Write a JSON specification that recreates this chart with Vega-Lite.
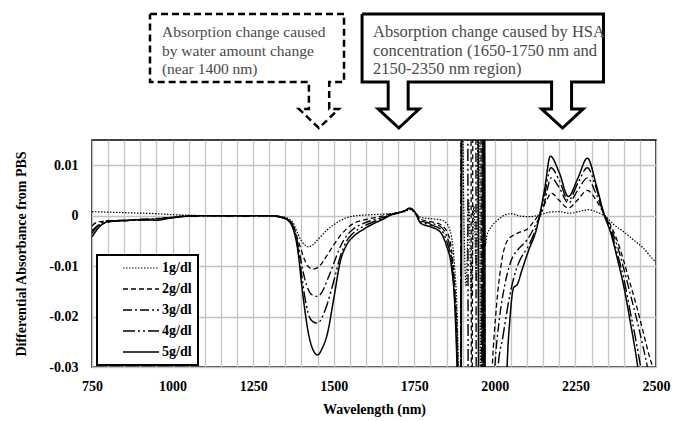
{
  "$schema": "https://vega.github.io/schema/vega-lite/v6.json",
  "width": 564,
  "height": 227,
  "autosize": {"type": "none"},
  "padding": {"left": 92, "top": 140, "right": 17, "bottom": 54},
  "background": "white",
  "config": {
    "font": "Liberation Serif, Tinos, Times New Roman, serif",
    "view": {"stroke": "black", "strokeWidth": 1.5},
    "legend": {
      "orient": "none",
      "legendX": 5,
      "legendY": 115,
      "strokeColor": "black",
      "strokeWidth": 2,
      "fillColor": "white",
      "padding": 6,
      "symbolOffset": 31,
      "symbolType": "M-3,0H3",
      "symbolSize": 144,
      "symbolStrokeColor": "black",
      "labelFont": "Liberation Serif, Tinos, Times New Roman, serif",
      "labelFontSize": 14,
      "labelFontWeight": "bold",
      "labelColor": "black",
      "labelOffset": 14,
      "rowPadding": 7
    }
  },
  "datasets": {
    "series": [
      {"s":"1g/dl","w":750,"v":0.0008},{"s":"1g/dl","w":800,"v":0.0007},{"s":"1g/dl","w":850,"v":0.0006},{"s":"1g/dl","w":900,"v":0.0005},{"s":"1g/dl","w":950,"v":0.0004},{"s":"1g/dl","w":1000,"v":0.0002},{"s":"1g/dl","w":1050,"v":0.0001},{"s":"1g/dl","w":1100,"v":0},{"s":"1g/dl","w":1200,"v":0},{"s":"1g/dl","w":1300,"v":0},{"s":"1g/dl","w":1340,"v":-0.0002},{"s":"1g/dl","w":1360,"v":-0.0006},{"s":"1g/dl","w":1375,"v":-0.0015},{"s":"1g/dl","w":1390,"v":-0.0038},{"s":"1g/dl","w":1400,"v":-0.005},{"s":"1g/dl","w":1410,"v":-0.0058},{"s":"1g/dl","w":1422,"v":-0.0062},{"s":"1g/dl","w":1435,"v":-0.0058},{"s":"1g/dl","w":1450,"v":-0.0048},{"s":"1g/dl","w":1465,"v":-0.0038},{"s":"1g/dl","w":1480,"v":-0.0028},{"s":"1g/dl","w":1500,"v":-0.0018},{"s":"1g/dl","w":1520,"v":-0.001},{"s":"1g/dl","w":1540,"v":-0.0004},{"s":"1g/dl","w":1560,"v":-0.0001},{"s":"1g/dl","w":1590,"v":0.0001},{"s":"1g/dl","w":1620,"v":0.0002},{"s":"1g/dl","w":1650,"v":0.0003},{"s":"1g/dl","w":1680,"v":0.0004},{"s":"1g/dl","w":1700,"v":0.0006},{"s":"1g/dl","w":1720,"v":0.0008},{"s":"1g/dl","w":1737,"v":0.0012},{"s":"1g/dl","w":1752,"v":0.0006},{"s":"1g/dl","w":1770,"v":-0.0003},{"s":"1g/dl","w":1800,"v":-0.0006},{"s":"1g/dl","w":1830,"v":-0.0008},{"s":"1g/dl","w":1850,"v":-0.0015},{"s":"1g/dl","w":1865,"v":-0.004},{"s":"1g/dl","w":1875,"v":-0.01},{"s":"1g/dl","w":1885,"v":-0.024},{"s":"1g/dl","w":1892,"v":-0.06},{"s":"1g/dl","w":1897,"v":0.06},{"s":"1g/dl","w":1903,"v":0.004},{"s":"1g/dl","w":1911,"v":-0.014},{"s":"1g/dl","w":1919,"v":0.003},{"s":"1g/dl","w":1927,"v":-0.016},{"s":"1g/dl","w":1935,"v":0.002},{"s":"1g/dl","w":1943,"v":-0.013},{"s":"1g/dl","w":1951,"v":0.06},{"s":"1g/dl","w":1957,"v":-0.06},{"s":"1g/dl","w":1964,"v":0.06},{"s":"1g/dl","w":1970,"v":-0.006},{"s":"1g/dl","w":1975,"v":-0.004},{"s":"1g/dl","w":1990,"v":-0.0021},{"s":"1g/dl","w":2010,"v":-0.0008},{"s":"1g/dl","w":2030,"v":0.0001},{"s":"1g/dl","w":2050,"v":0.0004},{"s":"1g/dl","w":2080,"v":-0.0001},{"s":"1g/dl","w":2110,"v":-0.0002},{"s":"1g/dl","w":2140,"v":0.0002},{"s":"1g/dl","w":2170,"v":0.0007},{"s":"1g/dl","w":2200,"v":0.0008},{"s":"1g/dl","w":2230,"v":0.0005},{"s":"1g/dl","w":2260,"v":0.0008},{"s":"1g/dl","w":2290,"v":0.0012},{"s":"1g/dl","w":2320,"v":0.0006},{"s":"1g/dl","w":2340,"v":0},{"s":"1g/dl","w":2370,"v":-0.0018},{"s":"1g/dl","w":2400,"v":-0.0032},{"s":"1g/dl","w":2430,"v":-0.0048},{"s":"1g/dl","w":2460,"v":-0.0064},{"s":"1g/dl","w":2490,"v":-0.0086},{"s":"1g/dl","w":2500,"v":-0.0092},

      {"s":"2g/dl","w":750,"v":-0.002},{"s":"2g/dl","w":770,"v":-0.0012},{"s":"2g/dl","w":800,"v":-0.0011},{"s":"2g/dl","w":850,"v":-0.0009},{"s":"2g/dl","w":900,"v":-0.0008},{"s":"2g/dl","w":950,"v":-0.0006},{"s":"2g/dl","w":1000,"v":-0.0003},{"s":"2g/dl","w":1050,"v":0},{"s":"2g/dl","w":1100,"v":0},{"s":"2g/dl","w":1200,"v":0},{"s":"2g/dl","w":1300,"v":0},{"s":"2g/dl","w":1340,"v":-0.0003},{"s":"2g/dl","w":1360,"v":-0.0008},{"s":"2g/dl","w":1375,"v":-0.002},{"s":"2g/dl","w":1390,"v":-0.005},{"s":"2g/dl","w":1400,"v":-0.007},{"s":"2g/dl","w":1410,"v":-0.0088},{"s":"2g/dl","w":1420,"v":-0.01},{"s":"2g/dl","w":1435,"v":-0.0106},{"s":"2g/dl","w":1450,"v":-0.0103},{"s":"2g/dl","w":1465,"v":-0.0093},{"s":"2g/dl","w":1480,"v":-0.0078},{"s":"2g/dl","w":1500,"v":-0.0058},{"s":"2g/dl","w":1520,"v":-0.004},{"s":"2g/dl","w":1540,"v":-0.0026},{"s":"2g/dl","w":1560,"v":-0.0016},{"s":"2g/dl","w":1590,"v":-0.0009},{"s":"2g/dl","w":1620,"v":-0.0005},{"s":"2g/dl","w":1650,"v":-0.0001},{"s":"2g/dl","w":1680,"v":0.0004},{"s":"2g/dl","w":1700,"v":0.0006},{"s":"2g/dl","w":1720,"v":0.0009},{"s":"2g/dl","w":1737,"v":0.0013},{"s":"2g/dl","w":1752,"v":0.0007},{"s":"2g/dl","w":1770,"v":-0.0007},{"s":"2g/dl","w":1800,"v":-0.0012},{"s":"2g/dl","w":1830,"v":-0.0017},{"s":"2g/dl","w":1850,"v":-0.003},{"s":"2g/dl","w":1865,"v":-0.0065},{"s":"2g/dl","w":1875,"v":-0.0135},{"s":"2g/dl","w":1885,"v":-0.0285},{"s":"2g/dl","w":1892,"v":-0.06},{"s":"2g/dl","w":1897,"v":0.06},{"s":"2g/dl","w":1925,"v":0.06},{"s":"2g/dl","w":1928,"v":-0.06},{"s":"2g/dl","w":1934,"v":0.06},{"s":"2g/dl","w":1955,"v":0.06},{"s":"2g/dl","w":1960,"v":-0.06},{"s":"2g/dl","w":1966,"v":0.06},{"s":"2g/dl","w":1970,"v":-0.06},{"s":"2g/dl","w":1980,"v":-0.05},{"s":"2g/dl","w":1992,"v":-0.03},{"s":"2g/dl","w":2005,"v":-0.018},{"s":"2g/dl","w":2020,"v":-0.0095},{"s":"2g/dl","w":2040,"v":-0.0048},{"s":"2g/dl","w":2060,"v":-0.0038},{"s":"2g/dl","w":2080,"v":-0.0032},{"s":"2g/dl","w":2100,"v":-0.0027},{"s":"2g/dl","w":2120,"v":-0.0012},{"s":"2g/dl","w":2140,"v":0.0006},{"s":"2g/dl","w":2160,"v":0.003},{"s":"2g/dl","w":2175,"v":0.0045},{"s":"2g/dl","w":2200,"v":0.003},{"s":"2g/dl","w":2228,"v":0.0015},{"s":"2g/dl","w":2255,"v":0.003},{"s":"2g/dl","w":2287,"v":0.005},{"s":"2g/dl","w":2315,"v":0.003},{"s":"2g/dl","w":2340,"v":0.0002},{"s":"2g/dl","w":2360,"v":-0.002},{"s":"2g/dl","w":2380,"v":-0.005},{"s":"2g/dl","w":2400,"v":-0.009},{"s":"2g/dl","w":2420,"v":-0.0135},{"s":"2g/dl","w":2440,"v":-0.018},{"s":"2g/dl","w":2460,"v":-0.023},{"s":"2g/dl","w":2480,"v":-0.028},{"s":"2g/dl","w":2495,"v":-0.031},{"s":"2g/dl","w":2500,"v":-0.032},

      {"s":"3g/dl","w":750,"v":-0.003},{"s":"3g/dl","w":770,"v":-0.0018},{"s":"3g/dl","w":800,"v":-0.001},{"s":"3g/dl","w":850,"v":-0.001},{"s":"3g/dl","w":900,"v":-0.0007},{"s":"3g/dl","w":950,"v":-0.0006},{"s":"3g/dl","w":1000,"v":-0.0003},{"s":"3g/dl","w":1050,"v":-0.0001},{"s":"3g/dl","w":1100,"v":0},{"s":"3g/dl","w":1200,"v":-0.0001},{"s":"3g/dl","w":1300,"v":0},{"s":"3g/dl","w":1340,"v":-0.0003},{"s":"3g/dl","w":1360,"v":-0.0009},{"s":"3g/dl","w":1375,"v":-0.0022},{"s":"3g/dl","w":1390,"v":-0.006},{"s":"3g/dl","w":1400,"v":-0.0095},{"s":"3g/dl","w":1410,"v":-0.0125},{"s":"3g/dl","w":1420,"v":-0.0145},{"s":"3g/dl","w":1435,"v":-0.0158},{"s":"3g/dl","w":1450,"v":-0.016},{"s":"3g/dl","w":1465,"v":-0.015},{"s":"3g/dl","w":1480,"v":-0.0128},{"s":"3g/dl","w":1500,"v":-0.0095},{"s":"3g/dl","w":1520,"v":-0.0062},{"s":"3g/dl","w":1540,"v":-0.004},{"s":"3g/dl","w":1560,"v":-0.0027},{"s":"3g/dl","w":1590,"v":-0.0016},{"s":"3g/dl","w":1620,"v":-0.0009},{"s":"3g/dl","w":1650,"v":-0.0004},{"s":"3g/dl","w":1680,"v":0.0003},{"s":"3g/dl","w":1700,"v":0.0006},{"s":"3g/dl","w":1720,"v":0.0009},{"s":"3g/dl","w":1737,"v":0.0014},{"s":"3g/dl","w":1752,"v":0.0007},{"s":"3g/dl","w":1770,"v":-0.001},{"s":"3g/dl","w":1800,"v":-0.0015},{"s":"3g/dl","w":1830,"v":-0.0021},{"s":"3g/dl","w":1850,"v":-0.004},{"s":"3g/dl","w":1865,"v":-0.0078},{"s":"3g/dl","w":1875,"v":-0.0148},{"s":"3g/dl","w":1885,"v":-0.031},{"s":"3g/dl","w":1892,"v":-0.06},{"s":"3g/dl","w":1898,"v":0.06},{"s":"3g/dl","w":1940,"v":0.06},{"s":"3g/dl","w":1943,"v":-0.06},{"s":"3g/dl","w":1958,"v":-0.06},{"s":"3g/dl","w":1963,"v":0.06},{"s":"3g/dl","w":1968,"v":-0.06},{"s":"3g/dl","w":1985,"v":-0.05},{"s":"3g/dl","w":2000,"v":-0.03},{"s":"3g/dl","w":2015,"v":-0.02},{"s":"3g/dl","w":2030,"v":-0.014},{"s":"3g/dl","w":2050,"v":-0.009},{"s":"3g/dl","w":2075,"v":-0.0065},{"s":"3g/dl","w":2100,"v":-0.0048},{"s":"3g/dl","w":2125,"v":-0.002},{"s":"3g/dl","w":2150,"v":0.0015},{"s":"3g/dl","w":2175,"v":0.0075},{"s":"3g/dl","w":2200,"v":0.0055},{"s":"3g/dl","w":2228,"v":0.0025},{"s":"3g/dl","w":2257,"v":0.005},{"s":"3g/dl","w":2287,"v":0.0075},{"s":"3g/dl","w":2313,"v":0.0045},{"s":"3g/dl","w":2340,"v":0.0002},{"s":"3g/dl","w":2360,"v":-0.0025},{"s":"3g/dl","w":2380,"v":-0.006},{"s":"3g/dl","w":2400,"v":-0.0105},{"s":"3g/dl","w":2420,"v":-0.0155},{"s":"3g/dl","w":2440,"v":-0.0205},{"s":"3g/dl","w":2460,"v":-0.026},{"s":"3g/dl","w":2475,"v":-0.0305},{"s":"3g/dl","w":2485,"v":-0.034},

      {"s":"4g/dl","w":750,"v":-0.0035},{"s":"4g/dl","w":770,"v":-0.002},{"s":"4g/dl","w":800,"v":-0.0013},{"s":"4g/dl","w":850,"v":-0.0009},{"s":"4g/dl","w":900,"v":-0.0009},{"s":"4g/dl","w":950,"v":-0.0007},{"s":"4g/dl","w":1000,"v":-0.0004},{"s":"4g/dl","w":1050,"v":0},{"s":"4g/dl","w":1100,"v":0},{"s":"4g/dl","w":1200,"v":0},{"s":"4g/dl","w":1300,"v":0},{"s":"4g/dl","w":1340,"v":-0.0004},{"s":"4g/dl","w":1360,"v":-0.001},{"s":"4g/dl","w":1375,"v":-0.0025},{"s":"4g/dl","w":1390,"v":-0.0068},{"s":"4g/dl","w":1400,"v":-0.0115},{"s":"4g/dl","w":1410,"v":-0.016},{"s":"4g/dl","w":1420,"v":-0.0192},{"s":"4g/dl","w":1435,"v":-0.021},{"s":"4g/dl","w":1450,"v":-0.0213},{"s":"4g/dl","w":1465,"v":-0.02},{"s":"4g/dl","w":1480,"v":-0.0175},{"s":"4g/dl","w":1500,"v":-0.013},{"s":"4g/dl","w":1520,"v":-0.0082},{"s":"4g/dl","w":1540,"v":-0.005},{"s":"4g/dl","w":1560,"v":-0.0035},{"s":"4g/dl","w":1590,"v":-0.0022},{"s":"4g/dl","w":1620,"v":-0.0013},{"s":"4g/dl","w":1650,"v":-0.0006},{"s":"4g/dl","w":1680,"v":0.0002},{"s":"4g/dl","w":1700,"v":0.0006},{"s":"4g/dl","w":1720,"v":0.001},{"s":"4g/dl","w":1737,"v":0.0015},{"s":"4g/dl","w":1752,"v":0.0007},{"s":"4g/dl","w":1770,"v":-0.0012},{"s":"4g/dl","w":1800,"v":-0.0018},{"s":"4g/dl","w":1830,"v":-0.0026},{"s":"4g/dl","w":1850,"v":-0.005},{"s":"4g/dl","w":1865,"v":-0.009},{"s":"4g/dl","w":1875,"v":-0.016},{"s":"4g/dl","w":1885,"v":-0.033},{"s":"4g/dl","w":1893,"v":-0.06},{"s":"4g/dl","w":1899,"v":0.06},{"s":"4g/dl","w":1915,"v":0.06},{"s":"4g/dl","w":1918,"v":-0.06},{"s":"4g/dl","w":1961,"v":-0.06},{"s":"4g/dl","w":1965,"v":0.06},{"s":"4g/dl","w":1969,"v":-0.06},{"s":"4g/dl","w":1995,"v":-0.05},{"s":"4g/dl","w":2010,"v":-0.03},{"s":"4g/dl","w":2025,"v":-0.024},{"s":"4g/dl","w":2040,"v":-0.018},{"s":"4g/dl","w":2060,"v":-0.012},{"s":"4g/dl","w":2080,"v":-0.0085},{"s":"4g/dl","w":2100,"v":-0.0065},{"s":"4g/dl","w":2125,"v":-0.003},{"s":"4g/dl","w":2150,"v":0.0025},{"s":"4g/dl","w":2174,"v":0.0095},{"s":"4g/dl","w":2200,"v":0.007},{"s":"4g/dl","w":2228,"v":0.003},{"s":"4g/dl","w":2258,"v":0.0065},{"s":"4g/dl","w":2287,"v":0.0095},{"s":"4g/dl","w":2312,"v":0.006},{"s":"4g/dl","w":2340,"v":0},{"s":"4g/dl","w":2360,"v":-0.003},{"s":"4g/dl","w":2380,"v":-0.0075},{"s":"4g/dl","w":2400,"v":-0.0125},{"s":"4g/dl","w":2420,"v":-0.019},{"s":"4g/dl","w":2440,"v":-0.0255},{"s":"4g/dl","w":2455,"v":-0.031},{"s":"4g/dl","w":2465,"v":-0.035},

      {"s":"5g/dl","w":750,"v":-0.0042},{"s":"5g/dl","w":765,"v":-0.0028},{"s":"5g/dl","w":780,"v":-0.0018},{"s":"5g/dl","w":800,"v":-0.0012},{"s":"5g/dl","w":850,"v":-0.001},{"s":"5g/dl","w":900,"v":-0.0008},{"s":"5g/dl","w":950,"v":-0.0009},{"s":"5g/dl","w":1000,"v":-0.0004},{"s":"5g/dl","w":1050,"v":-0.0001},{"s":"5g/dl","w":1100,"v":0},{"s":"5g/dl","w":1200,"v":0},{"s":"5g/dl","w":1300,"v":0},{"s":"5g/dl","w":1340,"v":-0.0004},{"s":"5g/dl","w":1360,"v":-0.001},{"s":"5g/dl","w":1375,"v":-0.0028},{"s":"5g/dl","w":1390,"v":-0.0075},{"s":"5g/dl","w":1400,"v":-0.0134},{"s":"5g/dl","w":1410,"v":-0.0185},{"s":"5g/dl","w":1420,"v":-0.0228},{"s":"5g/dl","w":1435,"v":-0.0265},{"s":"5g/dl","w":1450,"v":-0.0276},{"s":"5g/dl","w":1465,"v":-0.0262},{"s":"5g/dl","w":1480,"v":-0.0235},{"s":"5g/dl","w":1500,"v":-0.0165},{"s":"5g/dl","w":1520,"v":-0.0092},{"s":"5g/dl","w":1540,"v":-0.0058},{"s":"5g/dl","w":1560,"v":-0.0042},{"s":"5g/dl","w":1590,"v":-0.0028},{"s":"5g/dl","w":1620,"v":-0.0017},{"s":"5g/dl","w":1650,"v":-0.0008},{"s":"5g/dl","w":1680,"v":0.0002},{"s":"5g/dl","w":1700,"v":0.0005},{"s":"5g/dl","w":1720,"v":0.001},{"s":"5g/dl","w":1737,"v":0.0015},{"s":"5g/dl","w":1752,"v":0.0006},{"s":"5g/dl","w":1770,"v":-0.0015},{"s":"5g/dl","w":1800,"v":-0.0022},{"s":"5g/dl","w":1830,"v":-0.0032},{"s":"5g/dl","w":1850,"v":-0.006},{"s":"5g/dl","w":1865,"v":-0.01},{"s":"5g/dl","w":1875,"v":-0.017},{"s":"5g/dl","w":1885,"v":-0.035},{"s":"5g/dl","w":1894,"v":-0.06},{"s":"5g/dl","w":1900,"v":0.06},{"s":"5g/dl","w":1947,"v":0.06},{"s":"5g/dl","w":1950,"v":-0.06},{"s":"5g/dl","w":1962,"v":-0.06},{"s":"5g/dl","w":1967,"v":0.06},{"s":"5g/dl","w":1971,"v":-0.06},{"s":"5g/dl","w":2030,"v":-0.05},{"s":"5g/dl","w":2038,"v":-0.03},{"s":"5g/dl","w":2047,"v":-0.0203},{"s":"5g/dl","w":2058,"v":-0.0143},{"s":"5g/dl","w":2070,"v":-0.0136},{"s":"5g/dl","w":2083,"v":-0.011},{"s":"5g/dl","w":2104,"v":-0.007},{"s":"5g/dl","w":2130,"v":-0.0025},{"s":"5g/dl","w":2155,"v":0.0055},{"s":"5g/dl","w":2172,"v":0.0118},{"s":"5g/dl","w":2200,"v":0.0085},{"s":"5g/dl","w":2228,"v":0.0038},{"s":"5g/dl","w":2258,"v":0.0075},{"s":"5g/dl","w":2287,"v":0.0114},{"s":"5g/dl","w":2315,"v":0.006},{"s":"5g/dl","w":2340,"v":0},{"s":"5g/dl","w":2360,"v":-0.0035},{"s":"5g/dl","w":2380,"v":-0.0085},{"s":"5g/dl","w":2400,"v":-0.014},{"s":"5g/dl","w":2420,"v":-0.021},{"s":"5g/dl","w":2440,"v":-0.0285},{"s":"5g/dl","w":2450,"v":-0.033}
    ],
    "calloutWater": [
      {"i":1,"w":930,"v":0.04},{"i":2,"w":1532,"v":0.04},{"i":3,"w":1532,"v":0.0265},{"i":4,"w":1486,"v":0.0265},{"i":5,"w":1486,"v":0.02115},{"i":6,"w":1516,"v":0.02115},{"i":7,"w":1454,"v":0.01738},{"i":8,"w":1392,"v":0.02115},{"i":9,"w":1423,"v":0.02115},{"i":10,"w":1423,"v":0.0265},{"i":11,"w":930,"v":0.0265},{"i":12,"w":930,"v":0.04}
    ],
    "calloutHSA": [
      {"i":1,"w":1588,"v":0.04},{"i":2,"w":2337,"v":0.04},{"i":3,"w":2337,"v":0.0265},{"i":4,"w":2238,"v":0.0265},{"i":5,"w":2238,"v":0.02115},{"i":6,"w":2274,"v":0.02115},{"i":7,"w":2210,"v":0.01738},{"i":8,"w":2145,"v":0.02115},{"i":9,"w":2176,"v":0.02115},{"i":10,"w":2176,"v":0.0265},{"i":11,"w":1731,"v":0.0265},{"i":12,"w":1731,"v":0.02115},{"i":13,"w":1765,"v":0.02115},{"i":14,"w":1702,"v":0.01738},{"i":15,"w":1638,"v":0.02115},{"i":16,"w":1669,"v":0.02115},{"i":17,"w":1669,"v":0.0265},{"i":18,"w":1588,"v":0.0265},{"i":19,"w":1588,"v":0.04}
    ],
    "notesWater": [
      {"w":967,"v":0.03647,"t":"Absorption change caused"},
      {"w":967,"v":0.0327,"t":"by water amount change"},
      {"w":967,"v":0.02902,"t":"(near 1400 nm)"}
    ],
    "notesHSA": [
      {"w":1622,"v":0.03647,"t":"Absorption change caused by HSA"},
      {"w":1622,"v":0.0327,"t":"concentration (1650-1750 nm and"},
      {"w":1622,"v":0.02902,"t":"2150-2350 nm region)"}
    ]
  },
  "encoding": {
    "x": {
      "field": "w",
      "type": "quantitative",
      "scale": {"domain": [750, 2500], "nice": false, "zero": false},
      "axis": {
        "title": "Wavelength  (nm)",
        "values": [750,800,850,900,950,1000,1050,1100,1150,1200,1250,1300,1350,1400,1450,1500,1550,1600,1650,1700,1750,1800,1850,1900,1950,2000,2050,2100,2150,2200,2250,2300,2350,2400,2450,2500],
        "format": "d",
        "labelExpr": "datum.value % 250 == 0 ? datum.label : ''",
        "labelOverlap": false,
        "labelFlush": false,
        "grid": true,
        "gridColor": "#c4c4c4",
        "gridWidth": 1.3,
        "ticks": false,
        "domain": false,
        "labelFont": "Liberation Serif, Tinos, Times New Roman, serif",
        "labelFontSize": 14,
        "labelFontWeight": "bold",
        "labelColor": "black",
        "labelPadding": 12,
        "titleFont": "Liberation Serif, Tinos, Times New Roman, serif",
        "titleFontSize": 14,
        "titleFontWeight": "bold",
        "titleColor": "black",
        "titlePadding": 9
      }
    },
    "y": {
      "field": "v",
      "type": "quantitative",
      "scale": {"domain": [-0.03, 0.015], "nice": false, "zero": false},
      "axis": {
        "title": "Differential Absorbance from PBS",
        "values": [-0.03, -0.02, -0.01, 0, 0.01],
        "labelExpr": "datum.value == 0 ? '0' : (datum.value < 0 ? '-' : '') + format(abs(datum.value), '.2f')",
        "grid": true,
        "gridColor": "#c4c4c4",
        "gridWidth": 1.3,
        "ticks": false,
        "domain": false,
        "labelFont": "Liberation Serif, Tinos, Times New Roman, serif",
        "labelFontSize": 14,
        "labelFontWeight": "bold",
        "labelColor": "black",
        "labelPadding": 14,
        "titleFont": "Liberation Serif, Tinos, Times New Roman, serif",
        "titleFontSize": 14,
        "titleFontWeight": "bold",
        "titleColor": "black",
        "titlePadding": 20
      }
    }
  },
  "layer": [
    {
      "data": {"name": "series"},
      "mark": {"type": "line", "clip": true, "color": "black", "interpolate": "monotone"},
      "encoding": {
        "strokeDash": {
          "field": "s",
          "type": "ordinal",
          "title": null,
          "scale": {
            "domain": ["1g/dl", "2g/dl", "3g/dl", "4g/dl", "5g/dl"],
            "range": [[1.5, 1.5], [5, 3], [9, 3, 2, 3], [12, 3, 2, 3, 2, 3], [1, 0]]
          },
          "legend": {"labelExpr": "datum.label + '\u00a0\u00a0\u00a0\u00a0\u00a0'"}
        },
        "strokeWidth": {
          "field": "s",
          "type": "ordinal",
          "title": null,
          "scale": {
            "domain": ["1g/dl", "2g/dl", "3g/dl", "4g/dl", "5g/dl"],
            "range": [1.2, 1.5, 1.5, 1.6, 1.8]
          },
          "legend": {"labelExpr": "datum.label + '\u00a0\u00a0\u00a0\u00a0\u00a0'"}
        }
      }
    },
    {
      "data": {"name": "calloutWater"},
      "mark": {"type": "line", "color": "black", "strokeWidth": 2.5, "strokeDash": [7, 4], "strokeJoin": "miter"},
      "encoding": {"order": {"field": "i", "type": "quantitative"}}
    },
    {
      "data": {"name": "calloutHSA"},
      "mark": {"type": "line", "color": "black", "strokeWidth": 3, "strokeJoin": "miter"},
      "encoding": {"order": {"field": "i", "type": "quantitative"}}
    },
    {
      "data": {"name": "notesWater"},
      "mark": {"type": "text", "align": "left", "baseline": "middle", "font": "Liberation Serif, Tinos, Times New Roman, serif", "fontSize": 15.5, "color": "#4a4a4a"},
      "encoding": {"text": {"field": "t", "type": "nominal"}}
    },
    {
      "data": {"name": "notesHSA"},
      "mark": {"type": "text", "align": "left", "baseline": "middle", "font": "Liberation Serif, Tinos, Times New Roman, serif", "fontSize": 16.5, "color": "#4a4a4a"},
      "encoding": {"text": {"field": "t", "type": "nominal"}}
    }
  ]
}
